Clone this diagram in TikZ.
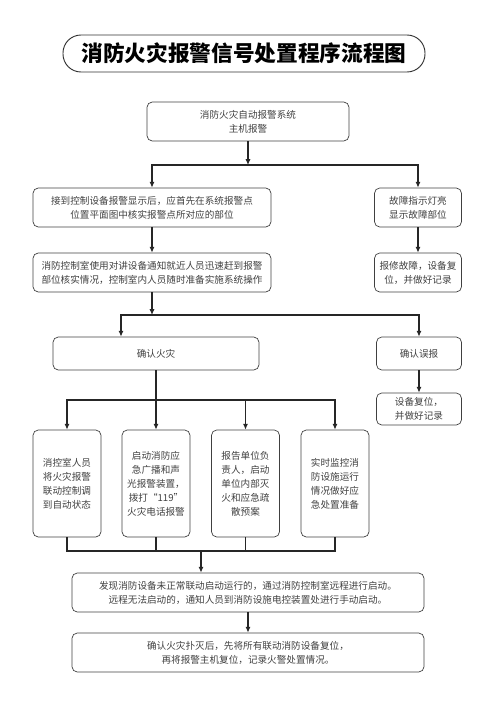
\documentclass[tikz,border=0pt]{standalone}
\usepackage{fontspec}
\setmainfont{Noto Sans CJK SC}
\usetikzlibrary{arrows.meta}
\begin{document}
\begin{tikzpicture}[x=.03cm,y=-.03cm,
box/.style={draw=black!75,line width=.6pt,rounded corners=4.5pt,align=center,text=black!75,inner sep=0pt,minimum height=1.17cm,font=\fontsize{8.2}{12}\selectfont},
flow/.style={draw=black!85,line width=1pt},arr/.style={flow,-{Latex[length=5pt,width=4.5pt]}}]
\useasboundingbox(0,0)rectangle(496,702);
\node[draw=black!80,line width=.8pt,rounded corners=.54cm,minimum width=10.86cm,minimum height=1.11cm,font=\fontsize{18.5}{20}\selectfont\bfseries](title)at(244,53.5){消防火灾报警信号处置程序流程图};
\node[box,minimum width=6.06cm](alarm)at(248,121.5){消防火灾自动报警系统\\主机报警};
\node[box,minimum width=7.14cm](check)at(152,207.5){接到控制设备报警显示后，应首先在系统报警点\\位置平面图中核实报警点所对应的部位};
\node[box,minimum width=2.61cm](fault)at(418,207.5){故障指示灯亮\\显示故障部位};
\node[box,minimum width=7.14cm](notify)at(152,272.5){消防控制室使用对讲设备通知就近人员迅速赶到报警\\部位核实情况，控制室内人员随时准备实施系统操作};
\node[box,minimum width=2.61cm](repair)at(418,272.5){报修故障，设备复\\位，并做好记录};
\node[box,minimum width=6.18cm,minimum height=.99cm](fire)at(156,353.5){确认火灾};
\node[box,minimum width=2.55cm,minimum height=.99cm](false)at(419,353.5){确认误报};
\node[box,minimum width=2.55cm,minimum height=.96cm](reset)at(419,409){设备复位，\\并做好记录};
\node[box,minimum width=2.04cm,minimum height=3.21cm](a1)at(67,483.5){消控室人员\\将火灾报警\\联动控制调\\到自动状态};
\node[box,minimum width=2.04cm,minimum height=3.21cm](a2)at(156,483.5){启动消防应\\急广播和声\\光报警装置，\\拨打“119”\\火灾电话报警};
\node[box,minimum width=2.04cm,minimum height=3.21cm](a3)at(245.5,483.5){报告单位负\\责人，启动\\单位内部灭\\火和应急疏\\散预案};
\node[box,minimum width=2.04cm,minimum height=3.21cm](a4)at(335,483.5){实时监控消\\防设施运行\\情况做好应\\急处置准备};
\node[box,minimum width=10.56cm](manual)at(248,592.5){发现消防设备未正常联动启动运行的，通过消防控制室远程进行启动。\\远程无法启动的，通知人员到消防设施电控装置处进行手动启动。};
\node[box,minimum width=10.56cm](record)at(248,652.5){确认火灾扑灭后，先将所有联动消防设备复位，\\再将报警主机复位，记录火警处置情况。};
\coordinate(j1)at(248,165);\coordinate(j2)at(152,315);\coordinate(j3)at(156,400);\coordinate(j4)at(201,551);
\draw[arr](alarm)--(j1);\draw[arr](j1)-|(check);\draw[arr](j1)-|(fault);
\draw[arr](check)--(notify);\draw[arr](fault)--(repair);
\draw[arr](notify)--(j2);\draw[arr](j2)-|([xshift=-1.05cm]fire.north);\draw[arr](j2)-|(false);
\draw[arr](false)--(reset);
\draw[flow](fire)--(j3);
\foreach \n in {a1,a2,a3,a4}{\draw[arr](j3)-|(\n);\draw[flow](\n)|-(j4);}
\draw[arr](j4)--(j4|-manual.north);\draw[arr](manual)--(record);
\end{tikzpicture}
\end{document}
